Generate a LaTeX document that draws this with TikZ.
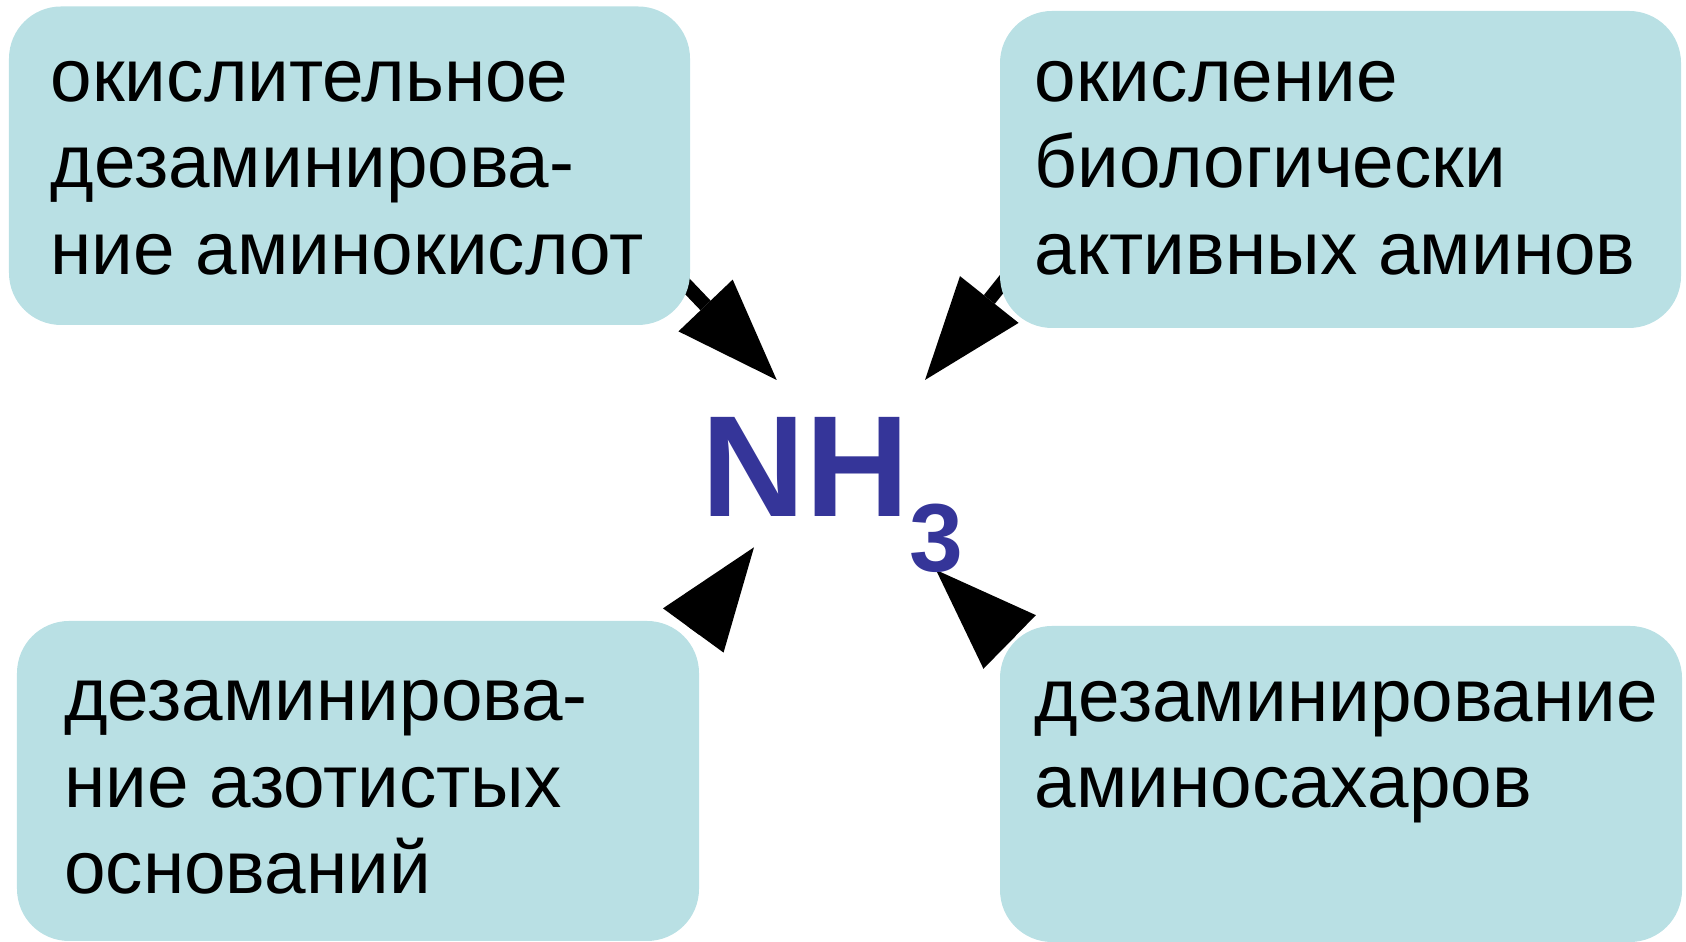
\documentclass[tikz,border=0pt]{standalone}
\usepackage{fontspec}
\setmainfont{Liberation Sans}
\usepackage{tikz}
\usetikzlibrary{shapes,arrows.meta,backgrounds}
\definecolor{boxblue}{RGB}{185,224,228}
\definecolor{nhblue}{RGB}{53,53,153}

\begin{document}
\begin{tikzpicture}[
  box/.style={fill=boxblue, rounded corners=0.52cm, inner sep=0pt},
  txt/.style={anchor=base west, align=left, inner sep=0pt,
    font=\fontsize{21.25}{24.75}\selectfont},
  arr/.style={line width=0.14cm, shorten <=-0.3cm,
    -{Triangle[length=1.03cm, width=0.75cm, line width=0pt]}}]
\useasboundingbox (0,0) rectangle (16.86,9.42);
\node[box, minimum width=6.81cm, minimum height=3.185cm] (box1) at (3.495,7.7625) {};
\node[box, minimum width=6.81cm, minimum height=3.17cm] (box2) at (13.405,7.725) {};
\node[box, minimum width=6.82cm, minimum height=3.2cm] (box3) at (3.58,1.61) {};
\node[box, minimum width=6.82cm, minimum height=3.16cm] (box4) at (13.41,1.58) {};
\node[txt] (txt1) at (0.50,6.67) {окислительное\\дезаминирова-\\ние аминокислот};
\node[txt] (txt2) at (10.34,6.67) {окисление\\биологически\\активных аминов};
\node[txt] (txt3) at (0.635,0.48) {дезаминирова-\\ние азотистых\\оснований};
\node[txt] (txt4) at (10.34,1.34) {дезаминирование\\аминосахаров};
\node[anchor=base west, inner sep=0pt, text=nhblue,
  font=\fontsize{41}{41}\selectfont\bfseries] (nh) at (7.005,4.253)
  {NH\raisebox{-0.55cm}{\fontsize{27.5}{27.5}\selectfont 3}};
\coordinate (t1) at (7.767,5.62);
\coordinate (t2) at (9.25,5.62);
\coordinate (t3) at (7.54,3.947);
\coordinate (t4) at (9.36,3.72);
\begin{scope}[on background layer]
\draw[arr] (box1.-20.6) -- (t1);
\draw[arr] (box2.199.4) -- (t2);
\draw[arr] (box3.25.6) -- (t3);
\draw[arr] (box4.156.2) -- (t4);
\end{scope}
\end{tikzpicture}
\end{document}
